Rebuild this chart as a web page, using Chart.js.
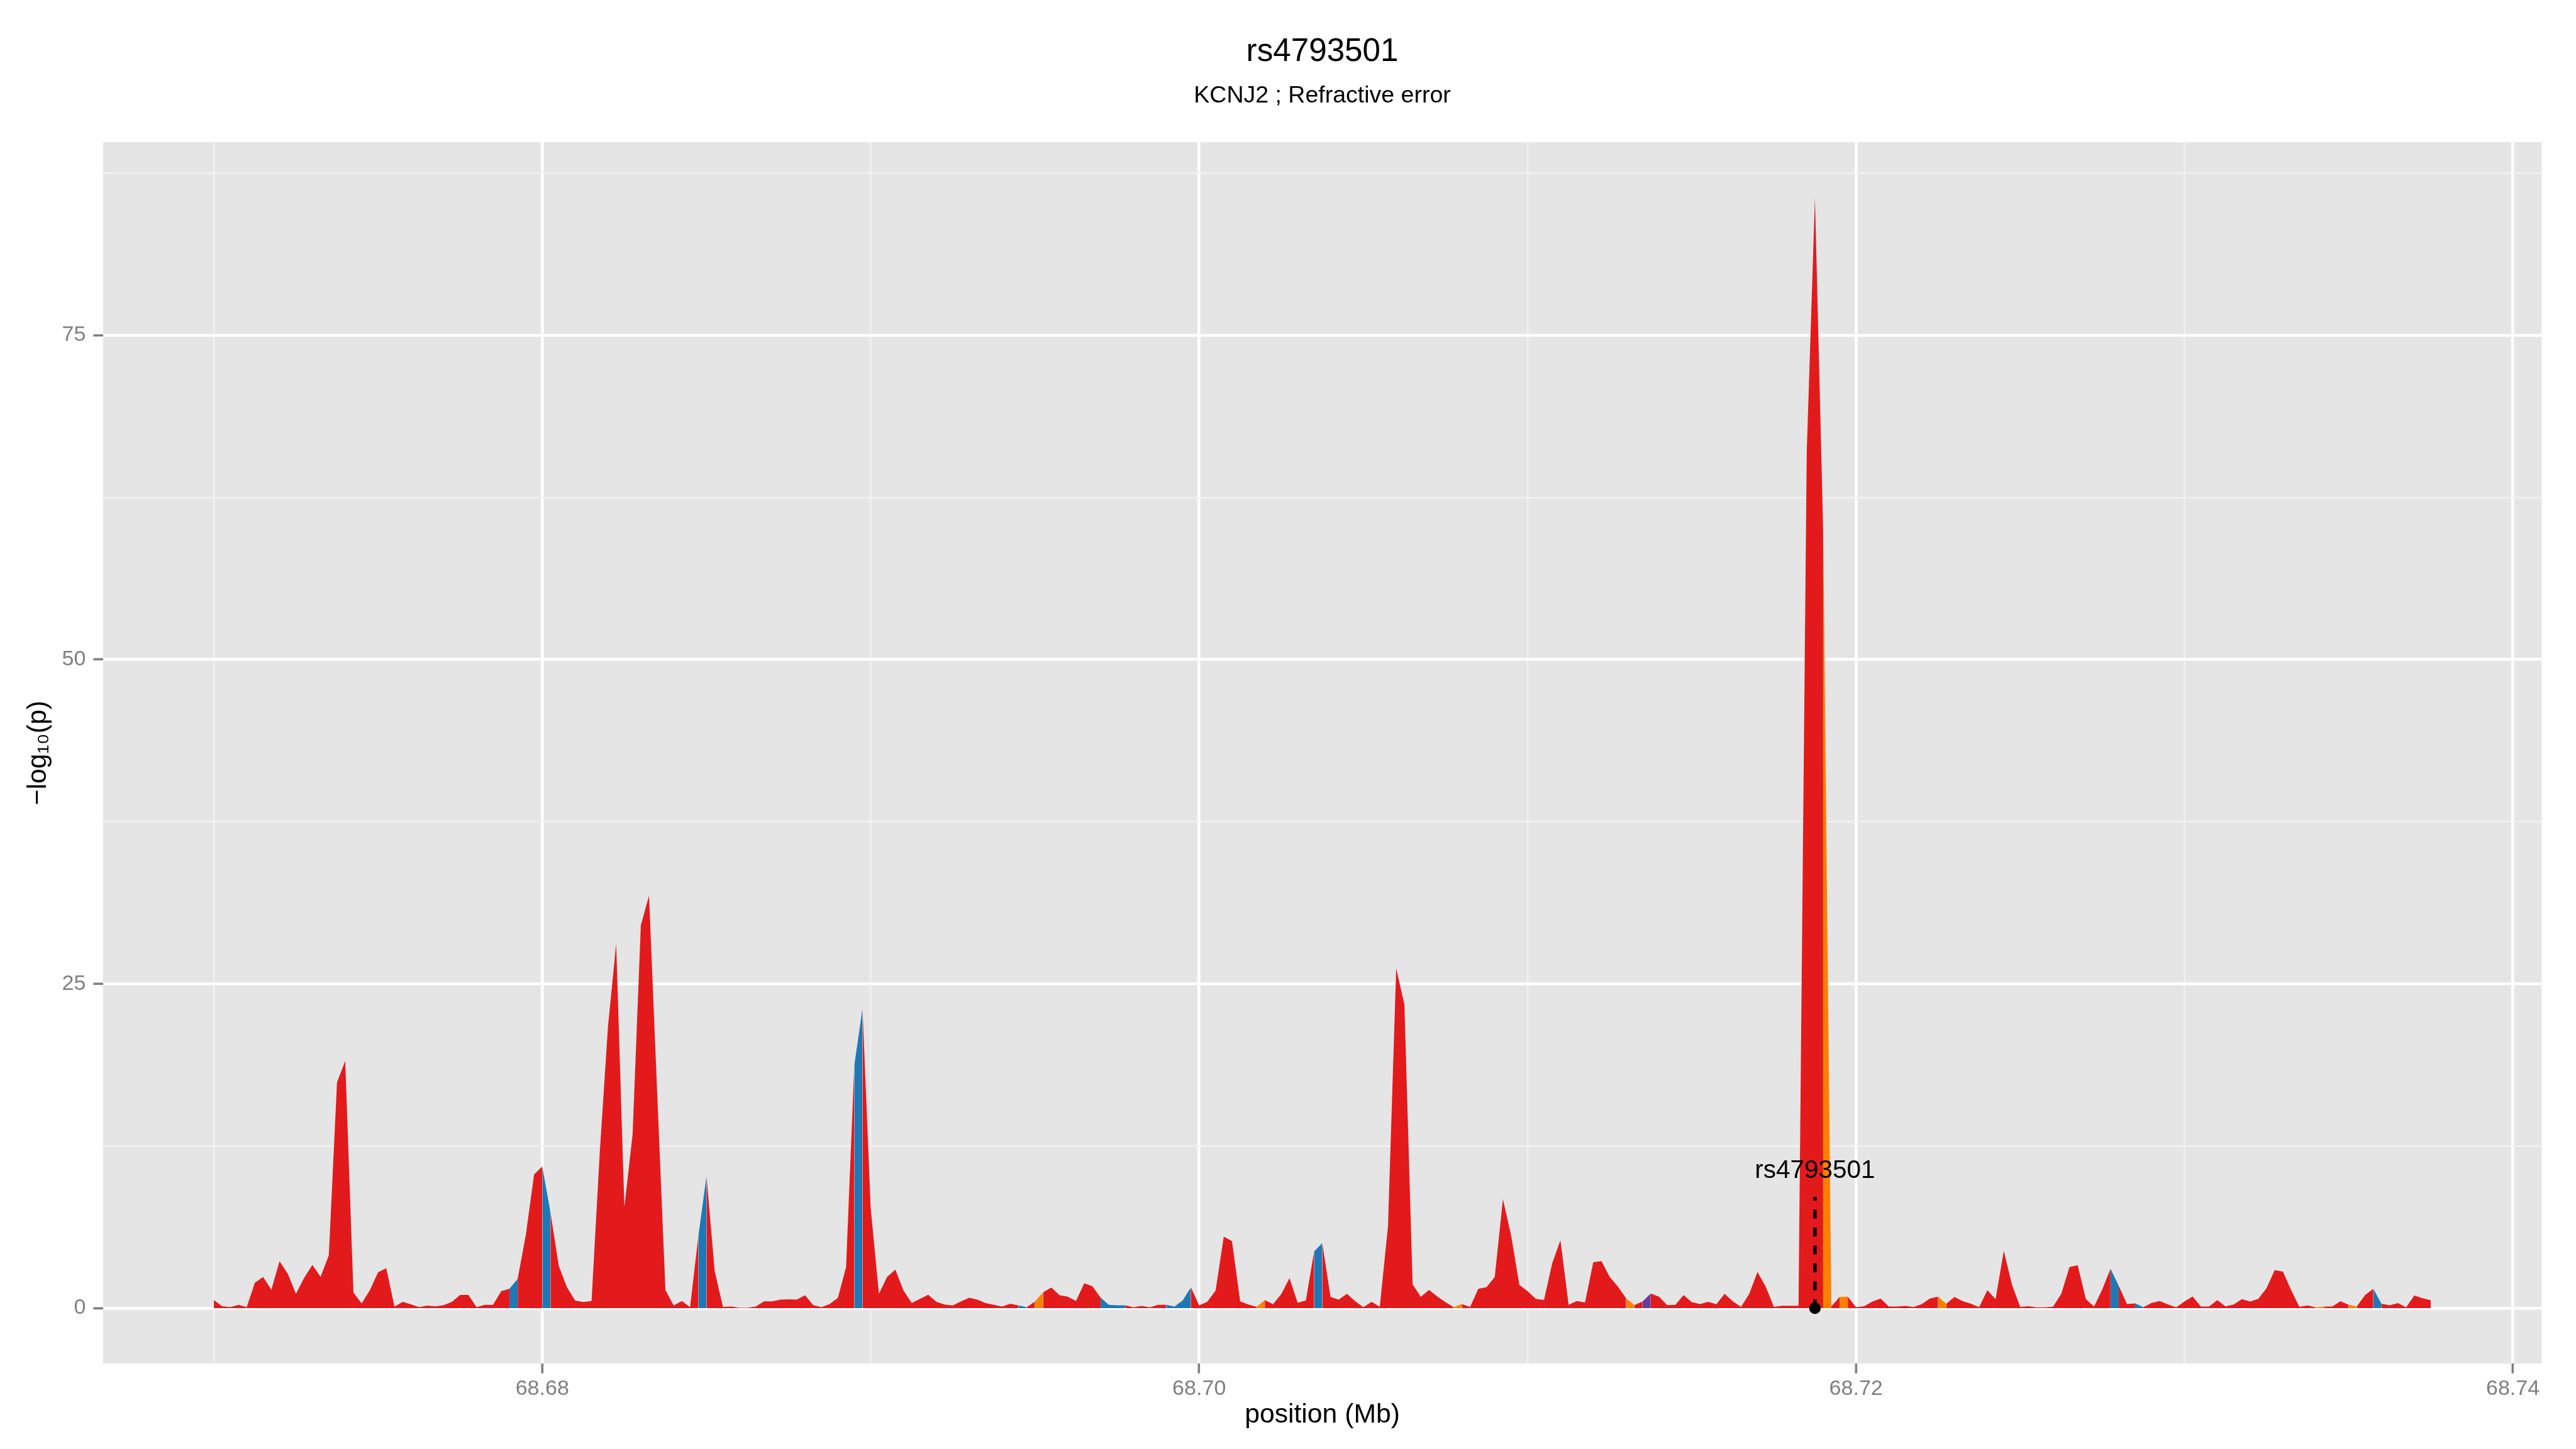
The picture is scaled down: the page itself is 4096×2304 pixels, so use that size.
<!DOCTYPE html>
<html>
<head>
<meta charset="utf-8">
<title>rs4793501</title>
<style>
	html, body { margin: 0; padding: 0; background: #ffffff; overflow: hidden; }
	#plot { display: block; }
</style>
</head>
<body>
<canvas id="plot" width="4096" height="2304"></canvas>
<script src="https://cdn.jsdelivr.net/npm/chart.js"></script>
<script>
	// SNP positions (Mb)
	const positionsMb = [
		68.67, 68.67025, 68.6705, 68.67075, 68.671, 68.67125, 68.6715, 68.67175,
		68.672, 68.67225, 68.6725, 68.67275, 68.673, 68.67325, 68.6735, 68.67375,
		68.674, 68.67425, 68.6745, 68.67475, 68.675, 68.67525, 68.6755, 68.67575,
		68.676, 68.67625, 68.6765, 68.67675, 68.677, 68.67725, 68.6775, 68.67775,
		68.678, 68.67825, 68.6785, 68.67875, 68.679, 68.67925, 68.6795, 68.67975,
		68.68, 68.68025, 68.6805, 68.68075, 68.681, 68.68125, 68.6815, 68.68175,
		68.682, 68.68225, 68.6825, 68.68275, 68.683, 68.68325, 68.6835, 68.68375,
		68.684, 68.68425, 68.6845, 68.68475, 68.685, 68.68525, 68.6855, 68.68575,
		68.686, 68.68625, 68.6865, 68.68675, 68.687, 68.68725, 68.6875, 68.68775,
		68.688, 68.68825, 68.6885, 68.68875, 68.689, 68.68925, 68.6895, 68.68975,
		68.69, 68.69025, 68.6905, 68.69075, 68.691, 68.69125, 68.6915, 68.69175,
		68.692, 68.69225, 68.6925, 68.69275, 68.693, 68.69325, 68.6935, 68.69375,
		68.694, 68.69425, 68.6945, 68.69475, 68.695, 68.69525, 68.6955, 68.69575,
		68.696, 68.69625, 68.6965, 68.69675, 68.697, 68.69725, 68.6975, 68.69775,
		68.698, 68.69825, 68.6985, 68.69875, 68.699, 68.69925, 68.6995, 68.69975,
		68.7, 68.70025, 68.7005, 68.70075, 68.701, 68.70125, 68.7015, 68.70175,
		68.702, 68.70225, 68.7025, 68.70275, 68.703, 68.70325, 68.7035, 68.70375,
		68.704, 68.70425, 68.7045, 68.70475, 68.705, 68.70525, 68.7055, 68.70575,
		68.706, 68.70625, 68.7065, 68.70675, 68.707, 68.70725, 68.7075, 68.70775,
		68.708, 68.70825, 68.7085, 68.70875, 68.709, 68.70925, 68.7095, 68.70975,
		68.71, 68.71025, 68.7105, 68.71075, 68.711, 68.71125, 68.7115, 68.71175,
		68.712, 68.71225, 68.7125, 68.71275, 68.713, 68.71325, 68.7135, 68.71375,
		68.714, 68.71425, 68.7145, 68.71475, 68.715, 68.71525, 68.7155, 68.71575,
		68.716, 68.71625, 68.7165, 68.71675, 68.717, 68.71725, 68.7175, 68.71775,
		68.718, 68.71825, 68.7185, 68.71875, 68.719, 68.71925, 68.7195, 68.71975,
		68.72, 68.72025, 68.7205, 68.72075, 68.721, 68.72125, 68.7215, 68.72175,
		68.722, 68.72225, 68.7225, 68.72275, 68.723, 68.72325, 68.7235, 68.72375,
		68.724, 68.72425, 68.7245, 68.72475, 68.725, 68.72525, 68.7255, 68.72575,
		68.726, 68.72625, 68.7265, 68.72675, 68.727, 68.72725, 68.7275, 68.72775,
		68.728, 68.72825, 68.7285, 68.72875, 68.729, 68.72925, 68.7295, 68.72975,
		68.73, 68.73025, 68.7305, 68.73075, 68.731, 68.73125, 68.7315, 68.73175,
		68.732, 68.73225, 68.7325, 68.73275, 68.733, 68.73325, 68.7335, 68.73375,
		68.734, 68.73425, 68.7345, 68.73475, 68.735, 68.73525, 68.7355, 68.73575,
		68.736, 68.73625, 68.7365, 68.73675, 68.737, 68.73725, 68.7375,
	];

	// -log10(p) at each position
	const logP = [
		0.62, 0.15, 0.07, 0.26, 0.07, 1.96, 2.4, 1.42,
		3.61, 2.65, 1.1, 2.34, 3.34, 2.41, 4.07, 17.4,
		19.05, 1.2, 0.37, 1.38, 2.76, 3.08, 0.11, 0.48,
		0.29, 0.07, 0.19, 0.14, 0.23, 0.48, 1.02, 1.02,
		0.07, 0.25, 0.25, 1.31, 1.49, 2.26, 5.66, 10.3,
		10.92, 7.38, 3.27, 1.61, 0.58, 0.47, 0.55, 12.0,
		21.7, 28.1, 7.8, 13.4, 29.5, 31.8, 16.5, 1.4,
		0.21, 0.55, 0.07, 5.5, 10.2, 2.85, 0.1, 0.12,
		0.04, 0.04, 0.12, 0.52, 0.52, 0.66, 0.68, 0.66,
		0.99, 0.23, 0.07, 0.32, 0.79, 3.17, 18.7, 23.1,
		7.7, 1.1, 2.41, 2.97, 1.35, 0.4, 0.72, 1.03,
		0.48, 0.28, 0.21, 0.52, 0.8, 0.65, 0.39, 0.25,
		0.12, 0.34, 0.21, 0.07, 0.51, 1.23, 1.59, 0.99,
		0.88, 0.55, 1.92, 1.68, 0.81, 0.26, 0.22, 0.22,
		0.06, 0.17, 0.06, 0.25, 0.26, 0.12, 0.59, 1.6,
		0.21, 0.5, 1.35, 5.52, 5.17, 0.52, 0.28, 0.1,
		0.62, 0.3, 1.08, 2.32, 0.41, 0.59, 4.37, 5.02,
		0.86, 0.65, 1.1, 0.54, 0.07, 0.48, 0.11, 6.3,
		26.2, 23.4, 1.83, 0.87, 1.41, 0.9, 0.46, 0.07,
		0.32, 0.08, 1.49, 1.61, 2.4, 8.4, 5.59, 1.79,
		1.31, 0.72, 0.63, 3.45, 5.24, 0.25, 0.55, 0.44,
		3.54, 3.63, 2.41, 1.66, 0.76, 0.23, 0.51, 1.13,
		0.88, 0.23, 0.26, 1.01, 0.46, 0.32, 0.48, 0.3,
		1.1, 0.52, 0.1, 1.1, 2.79, 1.66, 0.1, 0.18,
		0.18, 0.18, 66.0, 85.6, 60.0, 0.14, 0.86, 0.88,
		0.07, 0.15, 0.51, 0.74, 0.12, 0.12, 0.17, 0.08,
		0.3, 0.74, 0.88, 0.34, 0.86, 0.54, 0.34, 0.07,
		1.38, 0.69, 4.41, 1.79, 0.1, 0.15, 0.06, 0.06,
		0.11, 1.1, 3.17, 3.31, 0.69, 0.12, 1.45, 3.03,
		1.72, 0.32, 0.36, 0.07, 0.4, 0.55, 0.28, 0.06,
		0.51, 0.9, 0.12, 0.12, 0.62, 0.14, 0.28, 0.69,
		0.51, 0.72, 1.54, 2.94, 2.81, 1.38, 0.1, 0.21,
		0.06, 0.12, 0.12, 0.54, 0.26, 0.14, 1.01, 1.49,
		0.34, 0.22, 0.39, 0.06, 0.97, 0.76, 0.61,
	];

	// class of the stretch starting at each position (0 red, 1 blue, 2 orange, 3 purple)
	const fillClass = [
		0, 0, 0, 0, 0, 0, 0, 0,
		0, 0, 0, 0, 0, 0, 0, 0,
		0, 0, 0, 0, 0, 0, 0, 0,
		0, 0, 0, 0, 0, 0, 0, 0,
		0, 0, 0, 0, 1, 0, 0, 0,
		1, 0, 0, 0, 0, 0, 0, 0,
		0, 0, 0, 0, 0, 0, 0, 0,
		0, 0, 0, 1, 0, 0, 0, 0,
		0, 0, 0, 0, 0, 0, 0, 0,
		0, 0, 0, 0, 0, 0, 1, 0,
		0, 0, 0, 0, 0, 0, 0, 0,
		0, 0, 0, 0, 0, 0, 0, 0,
		0, 0, 1, 0, 2, 0, 0, 0,
		0, 0, 0, 0, 1, 1, 1, 0,
		0, 0, 0, 0, 1, 1, 1, 0,
		0, 0, 0, 0, 0, 0, 0, 2,
		0, 0, 0, 0, 0, 0, 1, 0,
		0, 0, 0, 0, 0, 0, 0, 0,
		0, 0, 0, 0, 0, 0, 0, 2,
		0, 0, 0, 0, 0, 0, 0, 0,
		0, 0, 0, 0, 0, 0, 0, 0,
		0, 0, 0, 0, 2, 0, 3, 0,
		0, 0, 0, 0, 0, 0, 0, 0,
		0, 0, 0, 0, 0, 0, 0, 0,
		0, 0, 0, 0, 2, 0, 2, 0,
		0, 0, 0, 0, 0, 0, 0, 0,
		0, 0, 2, 0, 0, 0, 0, 0,
		0, 0, 0, 0, 0, 0, 0, 0,
		0, 0, 0, 0, 0, 0, 0, 1,
		0, 0, 1, 0, 0, 0, 0, 0,
		0, 0, 0, 0, 0, 0, 0, 0,
		0, 0, 0, 0, 0, 0, 0, 0,
		2, 0, 0, 0, 2, 0, 0, 1,
		0, 0, 0, 0, 0, 0, 0,
	];

	const xMajorTicks = [68.68, 68.70, 68.72, 68.74];
	const xTickLabels = ["68.68", "68.70", "68.72", "68.74"];
	const xMinorTicks = [68.67, 68.69, 68.71, 68.73];
	const yMajorTicks = [0, 25, 50, 75];
	const yTickLabels = ["0", "25", "50", "75"];
	const yMinorTicks = [12.5, 37.5, 62.5, 87.5];

	const leadSnp = "rs4793501";
	const leadPos = 68.71875;
	const leadMarkTop = 8.57;
	const leadLabelY = 10.6;

	const classColors = ["#E31A1C", "#1F78B4", "#FF7F00", "#6A3D9A"];
	const font = "'Liberation Sans', Arial, Helvetica, sans-serif";
	const tickGrey = "#7F7F7F";

	// ggplot style 5% expansion
	const xLo = Math.min(...positionsMb);
	const xHi = Math.max(...positionsMb);
	const yHi = Math.max(...logP);
	const xPad = (xHi - xLo) * 0.05;
	const yPad = yHi * 0.05;

	const allX = xMinorTicks.concat(xMajorTicks).sort((a, b) => a - b);
	const allY = yMinorTicks.concat(yMajorTicks).sort((a, b) => a - b);

	Chart.defaults.font.family = font;

	const panelBg = {
		id: "panelBg",
		beforeDraw(chart) {
			const { ctx, chartArea: a } = chart;
			ctx.save();
			ctx.fillStyle = "#ffffff";
			ctx.fillRect(0, 0, chart.width, chart.height);
			ctx.fillStyle = "#E5E5E5";
			ctx.fillRect(a.left, a.top, a.right - a.left, a.bottom - a.top);
			ctx.restore();
		},
	};

	const leadLabel = {
		id: "leadLabel",
		afterDatasetsDraw(chart) {
			const { ctx, scales } = chart;
			ctx.save();
			ctx.font = "40.5px " + font;
			ctx.fillStyle = "#000000";
			ctx.textAlign = "center";
			ctx.textBaseline = "middle";
			ctx.fillText(leadSnp, scales.x.getPixelForValue(leadPos), scales.y.getPixelForValue(leadLabelY));
			ctx.restore();
		},
	};

	function gridFor(major) {
		return {
			color: (c) => (major.includes(c.tick.value) ? "#FFFFFF" : "#F2F2F2"),
			lineWidth: (c) => (major.includes(c.tick.value) ? 4.6 : 2.4),
			tickColor: (c) => (major.includes(c.tick.value) ? tickGrey : "rgba(0,0,0,0)"),
			tickWidth: 3.6,
			tickLength: 15.4,
		};
	}

	new Chart(document.getElementById("plot"), {
		type: "line",
		data: {
			datasets: [
				{
					data: positionsMb.map((x, i) => ({ x: x, y: logP[i] })),
					fill: "origin",
					backgroundColor: classColors[0],
					borderColor: "rgba(0,0,0,0)",
					borderWidth: 0,
					pointRadius: 0,
					tension: 0,
					order: 3,
					segment: {
						backgroundColor: (c) => classColors[fillClass[c.p0DataIndex]],
					},
				},
				{
					data: [
						{ x: leadPos, y: 0 },
						{ x: leadPos, y: leadMarkTop },
					],
					borderColor: "#000000",
					borderWidth: 5.4,
					borderDash: [14, 14.5],
					borderCapStyle: "butt",
					pointRadius: 0,
					fill: false,
					order: 2,
				},
				{
					type: "scatter",
					data: [{ x: leadPos, y: 0 }],
					pointRadius: 9.2,
					pointBackgroundColor: "#000000",
					pointBorderWidth: 0,
					order: 1,
				},
			],
		},
		options: {
			responsive: false,
			animation: false,
			events: [],
			layout: { padding: { top: 0, right: 54.7, bottom: 0, left: 0 } },
			plugins: {
				legend: { display: false },
				tooltip: { enabled: false },
				title: {
					display: true,
					text: "rs4793501",
					color: "#000000",
					fullSize: false,
					font: { size: 51.2, weight: "normal", lineHeight: 1 },
					padding: { top: 57.2, bottom: 0 },
				},
				subtitle: {
					display: true,
					text: "KCNJ2 ; Refractive error",
					color: "#000000",
					fullSize: false,
					font: { size: 37.5, weight: "normal", lineHeight: 1 },
					padding: { top: 25.2, bottom: 55 },
				},
			},
			scales: {
				x: {
					type: "linear",
					min: xLo - xPad,
					max: xHi + xPad,
					afterBuildTicks: (axis) => {
						axis.ticks = allX.map((v) => ({ value: v }));
					},
					afterFit: (axis) => {
						axis.height = 135.7;
					},
					grid: gridFor(xMajorTicks),
					border: { display: false },
					ticks: {
						autoSkip: false,
						maxRotation: 0,
						color: tickGrey,
						padding: 4,
						font: { size: 34.1 },
						callback: (v) => {
							const k = xMajorTicks.indexOf(v);
							return k < 0 ? "" : xTickLabels[k];
						},
					},
					title: {
						display: true,
						text: "position (Mb)",
						color: "#000000",
						font: { size: 42.7, lineHeight: 1 },
						padding: { top: 0, bottom: 32.5 },
					},
				},
				y: {
					type: "linear",
					min: -yPad,
					max: yHi + yPad,
					afterBuildTicks: (axis) => {
						axis.ticks = allY.map((v) => ({ value: v }));
					},
					afterFit: (axis) => {
						axis.width = 163.8;
					},
					grid: gridFor(yMajorTicks),
					border: { display: false },
					ticks: {
						autoSkip: false,
						color: tickGrey,
						padding: 12,
						font: { size: 34.1 },
						callback: (v) => {
							const k = yMajorTicks.indexOf(v);
							return k < 0 ? "" : yTickLabels[k];
						},
					},
					title: {
						display: true,
						text: "\u2212log\u2081\u2080(p)",
						color: "#000000",
						font: { size: 42.7, lineHeight: 1 },
						padding: { top: 40.3, bottom: 0 },
					},
				},
			},
		},
		plugins: [panelBg, leadLabel],
	});
</script>
</body>
</html>
